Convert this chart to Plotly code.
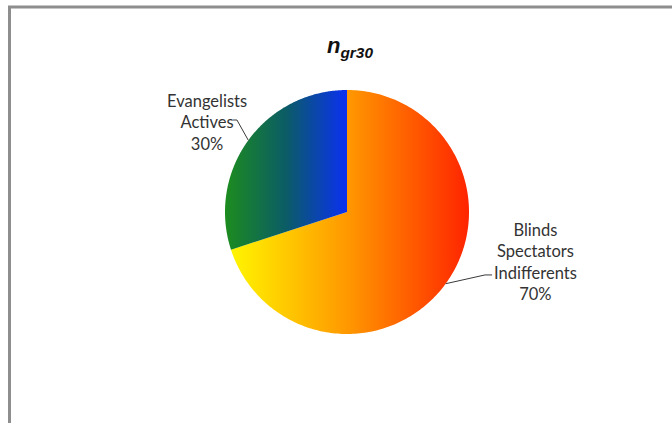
import numpy as np
import plotly.graph_objects as go

# Pie data (drawn clockwise from 12 o'clock)
categories = ["Blinds<br>Spectators<br>Indifferents", "Evangelists<br>Actives"]
values = [70, 30]
gradients = [
    [[0.0, "#FFF500"], [0.5, "#FF9600"], [1.0, "#FF2400"]],
    [[0.0, "#1C8C1E"], [0.5, "#0B5C66"], [1.0, "#0A30F2"]],
]
# label block centre and leader-line knee/end, in pie-radius units
label_pos = [(1.541, -0.410), (-1.148, 0.730)]
leader_knee = [(1.131, -0.516), (-0.902, 0.754)]
leader_end = [(1.189, -0.516), (-0.934, 0.754)]

PX = 122.0          # pixels per pie-radius unit
CX, CY = 347, 212   # pie centre in pixels
W, H = 672, 423

fig = go.Figure()
total = sum(values)
start = 90.0
mids = []
for cat, val, cs in zip(categories, values, gradients):
    sweep = 360.0 * val / total
    ang = np.radians(np.linspace(start, start - sweep, 240))
    xs = np.concatenate([[0.0], np.cos(ang), [0.0]])
    ys = np.concatenate([[0.0], np.sin(ang), [0.0]])
    fig.add_trace(go.Scatter(
        x=xs, y=ys, mode="none", fill="toself",
        fillgradient=dict(type="horizontal", colorscale=cs),
        hoverinfo="skip", showlegend=False,
    ))
    mids.append(np.radians(start - sweep / 2))
    start -= sweep

# leader lines and labels
for cat, val, mid, lp, kn, en in zip(categories, values, mids, label_pos,
                                      leader_knee, leader_end):
    fig.add_trace(go.Scatter(
        x=[np.cos(mid), kn[0], en[0]], y=[np.sin(mid), kn[1], en[1]],
        mode="lines", line=dict(color="#3a3a3a", width=1),
        hoverinfo="skip", showlegend=False,
    ))
    fig.add_annotation(
        x=lp[0], y=lp[1], xref="x", yref="y",
        text=f"{cat}<br>{val}%", showarrow=False, align="center",
        font=dict(family="Lato", size=16.5, color="#333333"),
    )

# title
fig.add_annotation(
    x=(350 - CX) / PX, y=(CY - 47) / PX, xref="x", yref="y",
    text="<b><i>n<sub>gr30</sub></i></b>", showarrow=False,
    font=dict(family="Liberation Sans", size=22, color="#111111"),
)

# chart frame (top and left edges visible)
fig.add_shape(
    type="path", xref="paper", yref="paper",
    path=f"M {9.5 / W},0 L {9.5 / W},{1 - 7 / H} L 1,{1 - 7 / H}",
    line=dict(color="#8e8e8e", width=3),
)

fig.update_layout(
    width=W, height=H,
    margin=dict(l=0, r=0, t=0, b=0),
    paper_bgcolor="white", plot_bgcolor="white",
    xaxis=dict(range=[-CX / PX, (W - CX) / PX], visible=False, fixedrange=True),
    yaxis=dict(range=[-(H - CY) / PX, CY / PX], visible=False, fixedrange=True),
)

fig.write_html("out.html")
